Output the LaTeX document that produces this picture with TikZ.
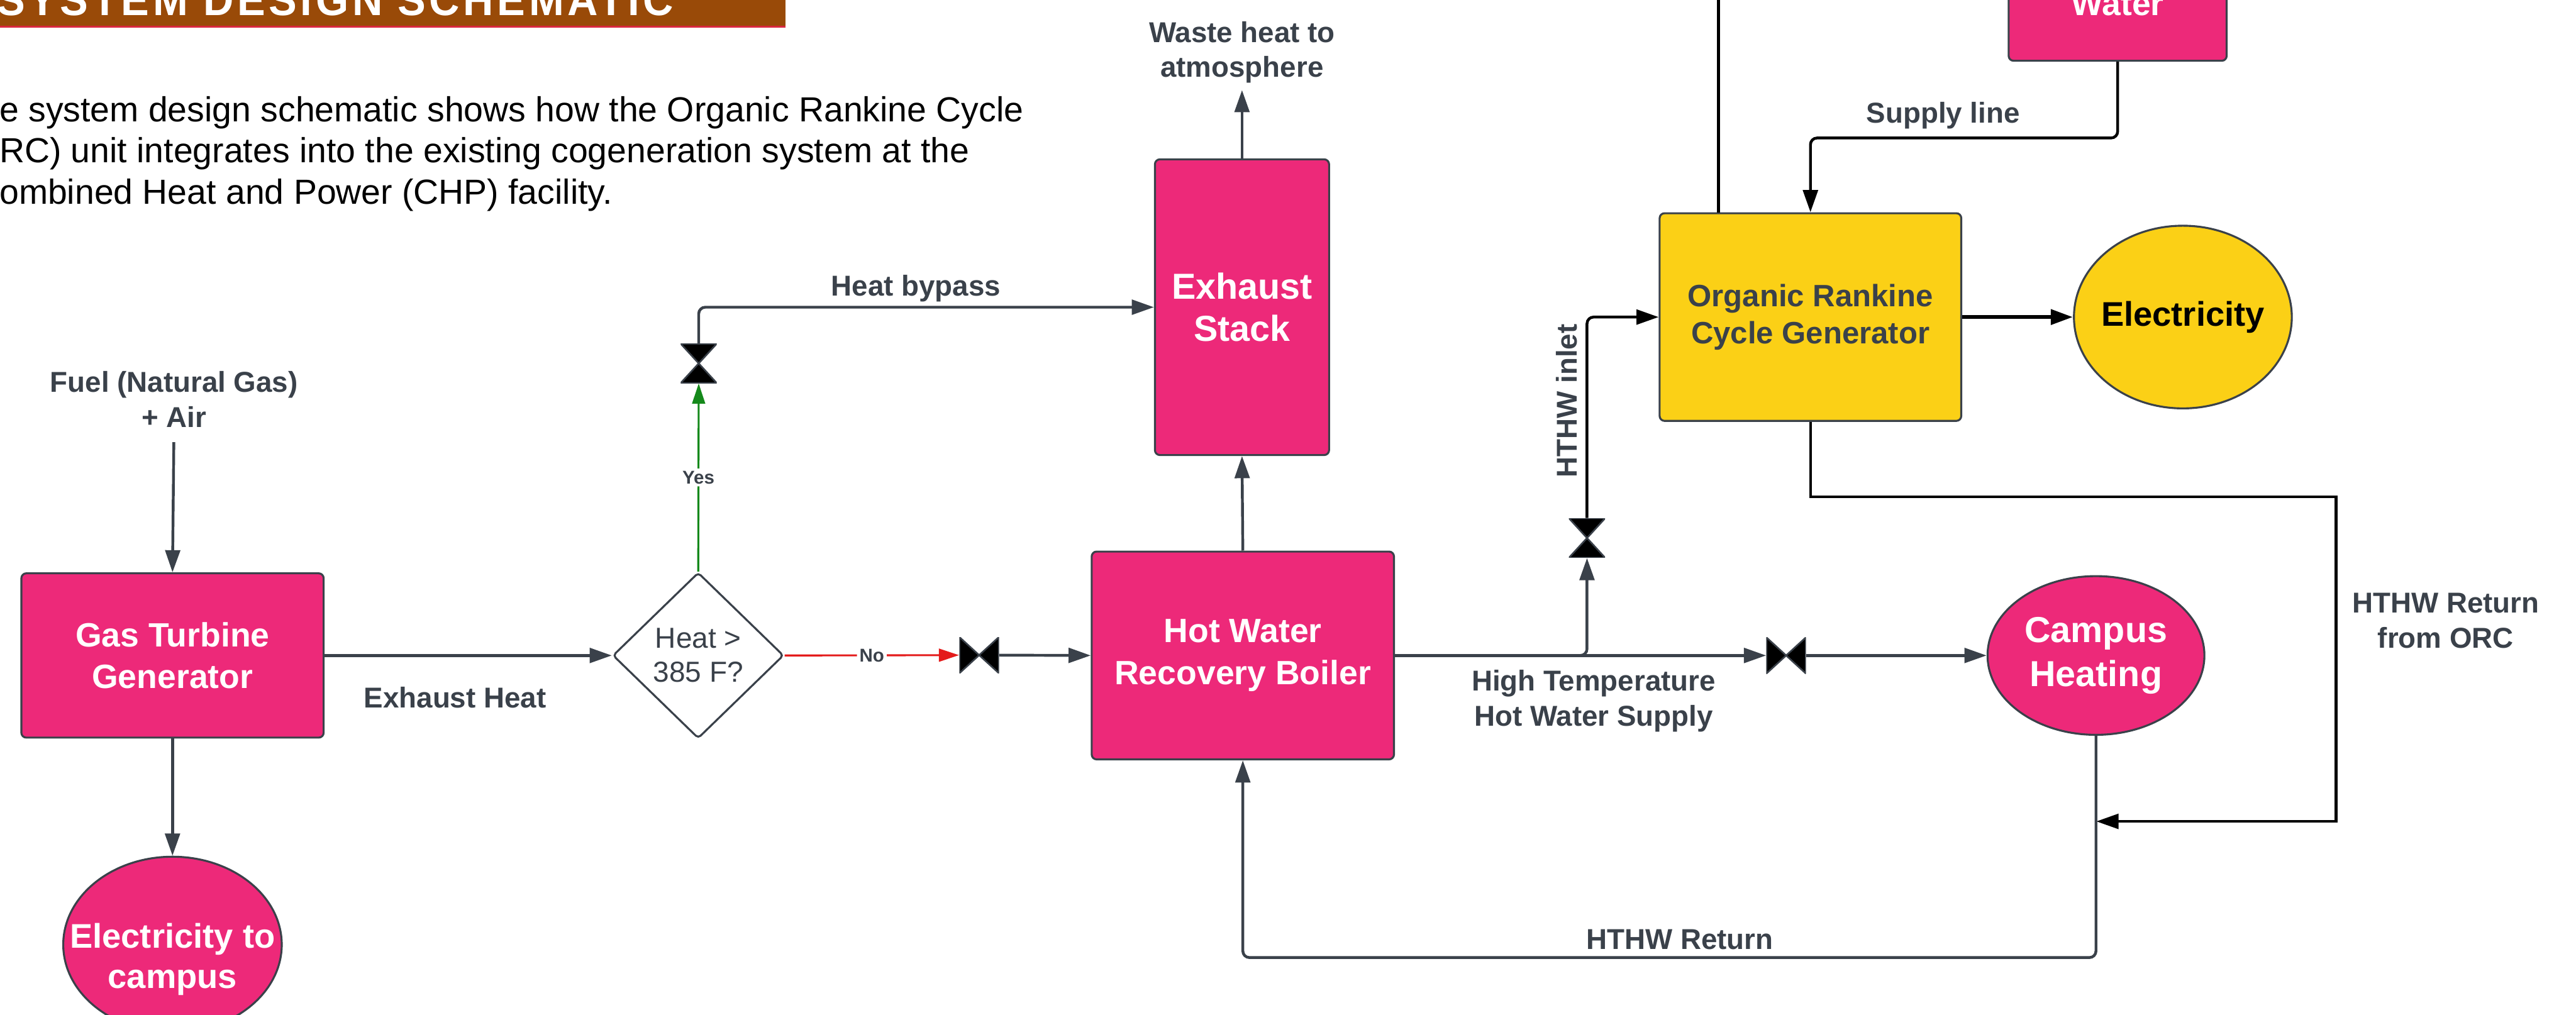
\documentclass[tikz,border=0pt]{standalone}
\usepackage{fontspec}
\setmainfont{Liberation Sans}
\newfontfamily\bannerfont{Liberation Sans}[FakeStretch=0.95,LetterSpace=8]
\usetikzlibrary{shapes.geometric,arrows.meta,positioning}

\definecolor{plantpink}{HTML}{ED2979}
\definecolor{orcyellow}{HTML}{FBD016}
\definecolor{pipegray}{HTML}{3A414A}
\definecolor{bannerbrown}{HTML}{994A08}
\definecolor{bannerred}{HTML}{D8283E}
\definecolor{nored}{HTML}{E41B1B}
\definecolor{yesgreen}{HTML}{15891B}

\tikzset{
plant/.style      = {shape=rectangle, rounded corners=3pt,
                     draw=pipegray, line width=1.2pt,
                     fill=plantpink, text=white, align=center,
                     font=\fontsize{20.5}{25.5}\selectfont\bfseries,
                     inner sep=0pt},
orcbox/.style     = {plant, fill=orcyellow, text=pipegray,
                     font=\fontsize{18.8}{22.6}\selectfont\bfseries},
outlet/.style     = {shape=ellipse, draw=pipegray, line width=1.2pt,
                     fill=plantpink, inner sep=0pt},
outlettext/.style = {text=white, align=center, inner sep=0pt,
                     font=\fontsize{20.8}{24.6}\selectfont\bfseries},
decision/.style   = {shape=diamond, rounded corners=2pt,
                     draw=pipegray, line width=1.2pt, fill=white,
                     text=pipegray, align=center, inner sep=0pt,
                     font=\fontsize{17.6}{20.7}\selectfont},
tag/.style        = {text=pipegray, align=center, inner sep=0pt,
                     font=\fontsize{17.5}{21.3}\selectfont\bfseries},
answer/.style     = {fill=white, text=pipegray, inner sep=1.5pt, midway,
                     font=\fontsize{11.3}{13}\selectfont\bfseries},
valveh/.style     = {shape=rectangle, inner sep=0pt,
                     minimum width=24pt, minimum height=22pt,
                     path picture={
                       \filldraw[fill=black, draw=pipegray, line width=1pt]
                         (path picture bounding box.north west)
                         -- (path picture bounding box.south west)
                         -- (path picture bounding box.north east)
                         -- (path picture bounding box.south east) -- cycle;}},
valvev/.style     = {shape=rectangle, inner sep=0pt,
                     minimum width=22pt, minimum height=24pt,
                     path picture={
                       \filldraw[fill=black, draw=pipegray, line width=1pt]
                         (path picture bounding box.north west)
                         -- (path picture bounding box.north east)
                         -- (path picture bounding box.south west)
                         -- (path picture bounding box.south east) -- cycle;}},
pipe/.style       = {draw=pipegray, line width=1.7pt, rounded corners=4pt,
                     -{Triangle[length=13.5pt,width=9pt]}},
feed/.style       = {pipe, draw=black},
yesline/.style    = {pipe, draw=yesgreen, line width=1.2pt,
                     -{Triangle[length=12.3pt,width=7.8pt]}},
noline/.style     = {yesline, draw=nored}
}
\newcommand{\yesmark}{node[answer] {Yes}}
\newcommand{\nomark}{node[answer] {No}}

\begin{document}
\begin{tikzpicture}[x=1pt, y=-1pt]
\useasboundingbox (0,0) rectangle (1568,617.7);
\clip (0,0) rectangle (1568,617.7);

% heading strip and intro text
\fill[bannerbrown] (0,-30) rectangle (478,16);
\draw[bannerred, line width=1pt] (0,16.2) -- (478,16.2);
\node[anchor=base west, inner sep=0pt, text=white,
      font=\bannerfont\bfseries\fontsize{27}{27}\selectfont]
      (heading) at (-2,9.5) {SYSTEM DESIGN SCHEMATIC};
\node[anchor=base west, align=left, inner sep=0pt,
      font=\fontsize{21.2}{25.2}\selectfont] (intro) at (-0.5,124.3)
  {e system design schematic shows how the Organic Rankine Cycle\\
   RC) unit integrates into the existing cogeneration system at the\\
   ombined Heat and Power (CHP) facility.};

% plant units
\node[plant, minimum width=184pt, minimum height=100pt] (gtg) at (105,399) {Gas Turbine\\Generator};
\node[plant, minimum width=184pt, minimum height=126.5pt] (hwrb) at (756.5,399) {Hot Water\\Recovery Boiler};
\node[plant, minimum width=106pt, minimum height=180pt,
      font=\fontsize{22}{26}\selectfont\bfseries] (stack) at (756,187) {Exhaust\\Stack};
\node[orcbox, minimum width=183.6pt, minimum height=126.4pt] (orc) at (1102,193) {Organic Rankine\\Cycle Generator};
\node[plant, minimum width=132.7pt, minimum height=69pt] (water) at (1289,2.5) {Water};
\node[decision, minimum width=104pt, minimum height=101pt] (check) at (425,399) {Heat >\\385 F?};

\node[outlet, minimum width=133pt, minimum height=107pt,
      label={[outlettext, yshift=-9pt]center:Electricity to\\campus}] (elecCampus) at (105,575) {};
\node[outlet, minimum width=132pt, minimum height=96.6pt,
      label={[outlettext, font=\fontsize{22}{27}\selectfont\bfseries]center:Campus\\Heating}] (campus) at (1275.8,399) {};
\node[outlet, fill=orcyellow, minimum width=132.6pt, minimum height=111.2pt,
      label={[outlettext, text=black]center:Electricity}] (elec) at (1328.7,193) {};

% valves
\node[valvev] (vBypass) at (425.3,221.2) {};
\node[valveh] (vNo) at (596,398.8) {};
\node[valvev] (vInlet) at (966,327.5) {};
\node[valveh] (vSupply) at (1087.2,399) {};

% stream labels
\node[tag, anchor=base] (fuel) at (105.9,260) {Fuel (Natural Gas)\\+ Air};
\node[tag, anchor=base] (waste) at (756,47) {Waste heat to\\atmosphere};
\node[tag, anchor=base] (exhaustTag) at (277,430.7) {Exhaust Heat};
\node[tag, anchor=base] (bypassTag) at (557.5,180) {Heat bypass};
\node[tag, anchor=base] (supplyTag) at (970,442) {High Temperature\\Hot Water Supply};
\node[tag, rotate=90] (inletTag) at (953.5,244) {HTHW inlet};
\node[tag, anchor=base] (lineTag) at (1182.8,74.9) {Supply line};
\node[tag, anchor=base] (orcReturnTag) at (1488.7,394.3) {HTHW Return\\from ORC};
\node[tag, anchor=base] (returnTag) at (1022.5,578) {HTHW Return};

\coordinate (ventTop) at (1046,-10);
\coordinate (orcBend) at (1422,302.5);
\coordinate (retJoin) at (1276,500);

% gas side
\draw[pipe, shorten <=9pt] (fuel.south) -- (gtg.north);
\draw[pipe] (gtg.south) -- (elecCampus.north);
\draw[pipe] (gtg.east) -- (check.west);
\draw[yesline] (check.north) -- (vBypass.south) \yesmark;
\draw[pipe] (vBypass.north) |- (stack.west);
\draw[noline] (check.east) -- (vNo.west) \nomark;
\draw[pipe] (vNo.east) -- (hwrb.west);
\draw[pipe] (hwrb.north) -- (stack.south);
\draw[pipe, shorten >=4pt] (stack.north) -- (waste.south);

% hot water side
\draw[pipe] (hwrb.east) -- (vSupply.west);
\draw[pipe] (hwrb.east) -| (vInlet.south);
\draw[feed] (vInlet.north) |- (orc.west);
\draw[pipe] (vSupply.east) -- (campus.west);
\draw[feed, line width=2.5pt] (orc.east) -- (elec.west);
\draw[feed] (water.south) -- ++(0,46.4) -| (orc.north);
\draw[feed, -] (orc.north -| ventTop) -- (ventTop);
\draw[feed, sharp corners] (orc.south) |- (orcBend) |- (retJoin);
\draw[pipe] (campus.south) -- ++(0,135) -| (hwrb.south);
\end{tikzpicture}
\end{document}
